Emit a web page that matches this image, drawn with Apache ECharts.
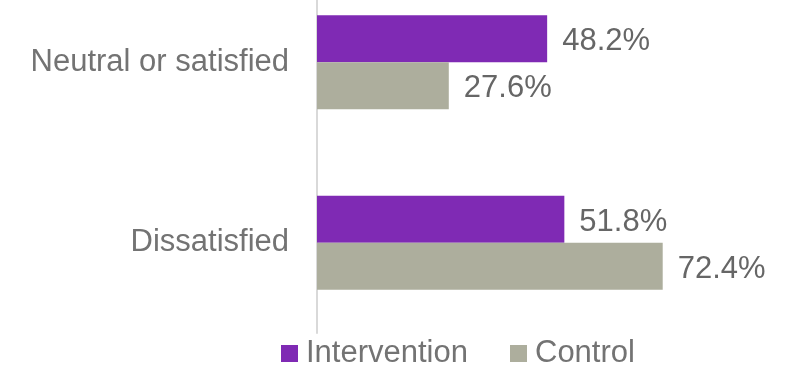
<!DOCTYPE html>
<html>
<head>
<meta charset="utf-8">
<script src="https://cdn.jsdelivr.net/npm/echarts@6/dist/echarts.min.js"></script>
<style>
  html, body { margin: 0; padding: 0; background: #ffffff; }
  #chart { width: 789px; height: 367px; }
</style>
</head>
<body>
<div id="chart"></div>
<script>
// Satisfaction responses by study arm (percent)
const categories = ['Neutral or satisfied', 'Dissatisfied'];
const intervention = [48.2, 51.8];
const control = [27.6, 72.4];
const seriesNames = ['Intervention', 'Control'];

const FONT = '"Liberation Sans", Arial, sans-serif';

const chart = echarts.init(document.getElementById('chart'), null, { renderer: 'canvas' });

const valueLabel = {
  show: true,
  position: 'right',
  distance: 15,
  offset: [0, 3],
  fontFamily: FONT,
  fontSize: 31,
  color: '#666666',
  formatter: p => p.value.toFixed(1) + '%'
};

chart.setOption({
  animation: false,
  backgroundColor: '#ffffff',
  grid: {
    left: 317, right: -5.5, top: -28, bottom: 34,
    containLabel: false,
    outerBoundsMode: 'none'
  },
  legend: {
    left: 276,
    top: 333,
    itemWidth: 17,
    itemHeight: 17,
    itemGap: 42,
    icon: 'rect',
    data: seriesNames,
    textStyle: { fontFamily: FONT, fontSize: 31, color: '#737373', padding: [0, 0, 0, 3] }
  },
  xAxis: {
    type: 'value',
    min: 0,
    max: 100,
    show: false
  },
  yAxis: {
    type: 'category',
    inverse: true,
    data: categories,
    axisLine: { show: true, lineStyle: { color: '#d9d9d9', width: 2 } },
    axisTick: { show: false },
    axisLabel: { margin: 28, fontFamily: FONT, fontSize: 31, color: '#737373', padding: [3, 0, 0, 0] },
    splitLine: { show: false }
  },
  series: [
    {
      name: seriesNames[0],
      type: 'bar',
      data: intervention,
      barWidth: 47,
      barGap: '0%',
      itemStyle: { color: '#7f2ab4' },
      label: valueLabel
    },
    {
      name: seriesNames[1],
      type: 'bar',
      data: control,
      barWidth: 47,
      barGap: '0%',
      itemStyle: { color: '#adae9d' },
      label: valueLabel
    }
  ]
});
</script>
</body>
</html>
